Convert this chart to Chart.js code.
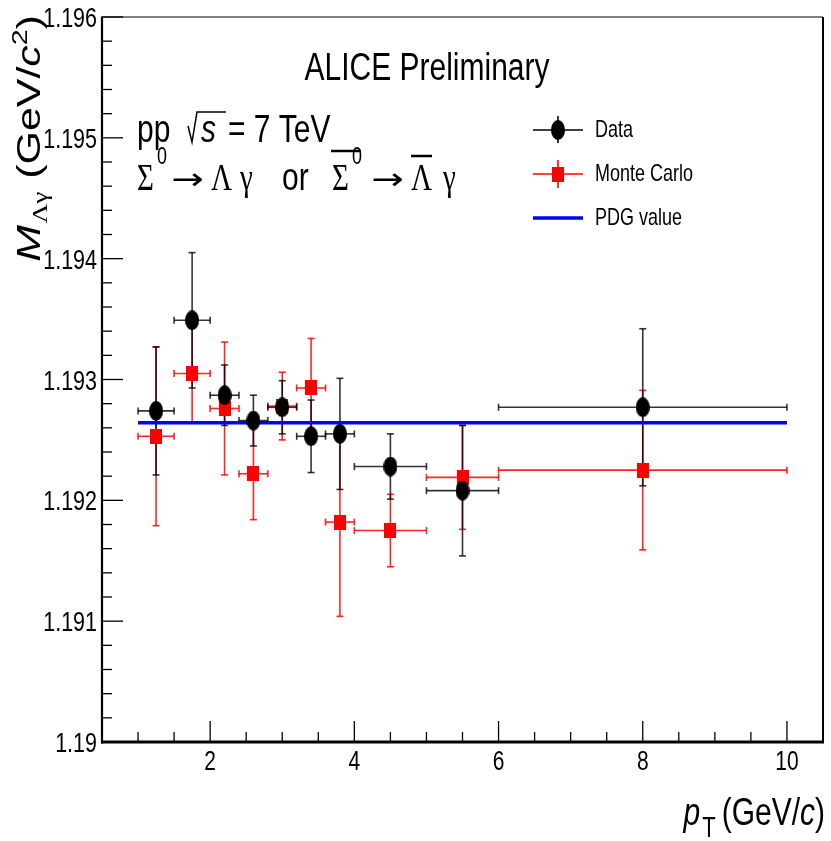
<!DOCTYPE html>
<html>
<head>
<meta charset="utf-8">
<script src="https://cdn.jsdelivr.net/npm/chart.js@4.4.1/dist/chart.umd.min.js"></script>
<style>
  html, body { margin: 0; padding: 0; background: #fff; }
  #chart { display: block; }
</style>
</head>
<body>
<canvas id="chart" width="831" height="841"></canvas>
<script>
// pT bins (GeV/c)
const ptCenters = [1.25, 1.75, 2.2, 2.6, 3.0, 3.4, 3.8, 4.5, 5.5, 8.0];
const ptLow     = [1.0, 1.5, 2.0, 2.4, 2.8, 3.2, 3.6, 4.0, 5.0, 6.0];
const ptHigh    = [1.5, 2.0, 2.4, 2.8, 3.2, 3.6, 4.0, 5.0, 6.0, 10.0];

// Lambda-gamma invariant mass (GeV/c^2)
const dataMass = [1.19274, 1.19349, 1.19287, 1.19266, 1.19277, 1.19253, 1.19255, 1.19228, 1.19208, 1.19277];
const dataErr  = [0.00053, 0.00056, 0.00025, 0.00021, 0.00022, 0.00030, 0.00046, 0.00027, 0.00054, 0.00065];
const mcMass   = [1.19253, 1.19305, 1.19276, 1.19222, 1.19278, 1.19293, 1.19182, 1.19175, 1.19219, 1.19225];
const mcErr    = [0.00074, 0.00040, 0.00055, 0.00038, 0.00028, 0.00041, 0.00078, 0.00030, 0.00043, 0.00066];

const pdgMass  = 1.192642;
const pdgRange = [1.0, 10.0];

// axis ticks
const xTicks = [2, 4, 6, 8, 10];
const xTickLabels = ['2', '4', '6', '8', '10'];
const yTicks = [1.19, 1.191, 1.192, 1.193, 1.194, 1.195, 1.196];
const yTickLabels = ['1.19', '1.191', '1.192', '1.193', '1.194', '1.195', '1.196'];

const SANS = '"Liberation Sans", Arial, sans-serif';
const SERIF = '"Liberation Serif", "Times New Roman", serif';
const S = 1.3; // ROOT canvas text looks stretched vertically

function markerImg(w, h, color, round) {
    const c = document.createElement('canvas');
    c.width = w; c.height = h;
    const g = c.getContext('2d');
    g.fillStyle = color;
    if (round) {
        g.beginPath();
        g.ellipse(w / 2, h / 2, w / 2, h / 2, 0, 0, Math.PI * 2);
        g.fill();
    } else {
        g.fillRect(0, 0, w, h);
    }
    return c;
}
const dotImg = markerImg(14, 20, '#000', true);
const squareImg = markerImg(12, 15, '#ff0000', false);

// draw a list of text runs along the current x axis, returns width
function runs(ctx, list, draw) {
    let x = 0;
    for (const r of list) {
        ctx.font = (r.italic ? 'italic ' : '') + r.size + 'px ' + (r.serif ? SERIF : SANS);
        if (draw) ctx.fillText(r.t, x, r.dy || 0);
        x += ctx.measureText(r.t).width + (r.gap || 0);
    }
    return x;
}

function text(ctx, str, x, y, size, opt) {
    opt = opt || {};
    ctx.save();
    ctx.translate(x, y);
    ctx.scale(opt.sx || 1, opt.sy || S);
    ctx.font = (opt.italic ? 'italic ' : '') + size + 'px ' + (opt.family || (opt.serif ? SERIF : SANS));
    ctx.textAlign = opt.align || 'left';
    ctx.textBaseline = 'alphabetic';
    ctx.fillStyle = '#000';
    ctx.fillText(str, 0, 0);
    ctx.restore();
}

function line(ctx, x1, y1, x2, y2, color, w) {
    ctx.strokeStyle = color;
    ctx.lineWidth = w;
    ctx.beginPath();
    ctx.moveTo(x1, y1);
    ctx.lineTo(x2, y2);
    ctx.stroke();
}

function errorBars(ctx, xs, ys, mass, err, color) {
    const cap = 3.5;
    for (let i = 0; i < ptCenters.length; i++) {
        const px = xs.getPixelForValue(ptCenters[i]);
        const py = ys.getPixelForValue(mass[i]);
        const x1 = xs.getPixelForValue(ptLow[i]);
        const x2 = xs.getPixelForValue(ptHigh[i]);
        const y1 = ys.getPixelForValue(mass[i] + err[i]);
        const y2 = ys.getPixelForValue(mass[i] - err[i]);
        line(ctx, x1, py, x2, py, color, 1.6);
        line(ctx, x1, py - cap, x1, py + cap, color, 1.6);
        line(ctx, x2, py - cap, x2, py + cap, color, 1.6);
        line(ctx, px, y1, px, y2, color, 1.6);
        line(ctx, px - cap, y1, px + cap, y1, color, 1.6);
        line(ctx, px - cap, y2, px + cap, y2, color, 1.6);
    }
}

const ARROW = { family: '"DejaVu Sans", sans-serif', sx: 1.3, sy: 1 };

const rootStyle = {
    id: 'rootStyle',
    beforeDatasetsDraw(chart) {
        const ctx = chart.ctx;
        const xs = chart.scales.x, ys = chart.scales.y;
        ctx.save();
        errorBars(ctx, xs, ys, mcMass, mcErr, 'rgba(255,0,0,0.85)');
        errorBars(ctx, xs, ys, dataMass, dataErr, 'rgba(0,0,0,0.8)');
        ctx.restore();
    },
    afterDatasetsDraw(chart) {
        const ctx = chart.ctx;
        const a = chart.chartArea;
        const xs = chart.scales.x, ys = chart.scales.y;
        ctx.save();

        // frame
        line(ctx, a.left, a.top, a.right, a.top, '#000', 1.2);
        line(ctx, a.right, a.top, a.right, a.bottom, '#000', 2);
        line(ctx, a.left, a.top - 0.5, a.left, a.bottom + 1.5, '#000', 2.2);
        line(ctx, a.left - 1, a.bottom, a.right + 1, a.bottom, '#000', 3);

        // x ticks (inward)
        for (let v = 0.5; v <= 10.5 + 1e-9; v += 0.5) {
            const px = xs.getPixelForValue(v);
            const major = xTicks.includes(Math.round(v * 10) / 10);
            line(ctx, px, a.bottom, px, a.bottom - (major ? 21 : 10), '#000', 1.3);
        }
        // y ticks (inward)
        for (let k = 0; k <= 30; k++) {
            const v = 1.19 + k * 0.0002;
            const py = ys.getPixelForValue(v);
            line(ctx, a.left, py, a.left + (k % 5 === 0 ? 21 : 10), py, '#000', 1.3);
        }

        // tick labels
        xTicks.forEach((v, i) => text(ctx, xTickLabels[i], xs.getPixelForValue(v), a.bottom + 28, 21, { align: 'center' }));
        yTicks.forEach((v, i) => text(ctx, yTickLabels[i], a.left - 5, ys.getPixelForValue(v) + 10, 21.5, { align: 'right' }));

        // x title
        ctx.fillStyle = '#000';
        ctx.save();
        ctx.translate(0, 825);
        ctx.scale(1, S);
        const xt = [
            { t: 'p', size: 30, italic: true, gap: 2 },
            { t: 'T', size: 22, dy: 9, gap: 6 },
            { t: '(GeV/', size: 30 },
            { t: 'c', size: 30, italic: true },
            { t: ')', size: 30 }
        ];
        const xw = runs(ctx, xt, false);
        ctx.translate(825 - xw, 0);
        runs(ctx, xt, true);
        ctx.restore();

        // y title (rotated)
        ctx.save();
        ctx.translate(40, 0);
        ctx.rotate(-Math.PI / 2);
        ctx.scale(S, 1);
        const yt = [
            { t: 'M', size: 34, italic: true, gap: 1 },
            { t: '\u039B\u03B3', size: 21, serif: true, dy: 7, gap: 10 },
            { t: '(GeV/', size: 33 },
            { t: 'c', size: 33, italic: true },
            { t: '2', size: 22, dy: -13 },
            { t: ')', size: 33 }
        ];
        const yw = runs(ctx, yt, false);
        ctx.translate(-(15 / S) - yw, 0);
        runs(ctx, yt, true);
        ctx.restore();

        // labels
        text(ctx, 'ALICE Preliminary', 427, 80, 30, { align: 'center' });

        text(ctx, 'pp', 137, 142, 30);
        ctx.strokeStyle = '#000';
        ctx.lineWidth = 1.5;
        ctx.beginPath();
        ctx.moveTo(188, 126);
        ctx.lineTo(192, 142);
        ctx.lineTo(197, 112);
        ctx.lineTo(226, 112);
        ctx.stroke();
        text(ctx, 's', 201, 142, 30, { italic: true });
        text(ctx, '= 7 TeV', 228, 142, 30);

        text(ctx, '\u03A3', 137, 190, 29, { serif: true });
        text(ctx, '0', 157, 164, 18);
        text(ctx, '\u2192', 171, 189, 30, ARROW);
        text(ctx, '\u039B', 211, 190, 29, { serif: true });
        text(ctx, '\u03B3', 240, 190, 29, { serif: true });
        text(ctx, 'or', 282, 190, 30);
        text(ctx, '\u03A3', 332, 190, 29, { serif: true });
        text(ctx, '0', 352, 164, 18);
        line(ctx, 331, 151, 361, 151, '#000', 2.5);
        text(ctx, '\u2192', 371, 189, 30, ARROW);
        text(ctx, '\u039B', 411, 190, 29, { serif: true });
        line(ctx, 411, 156, 432, 156, '#000', 2.5);
        text(ctx, '\u03B3', 443, 190, 29, { serif: true });

        // legend
        line(ctx, 533, 130, 583, 130, '#000', 1.6);
        line(ctx, 558, 116, 558, 143, '#000', 1.6);
        ctx.drawImage(dotImg, 558 - 7, 130 - 10);
        text(ctx, 'Data', 595, 137, 18);

        line(ctx, 533, 174, 583, 174, '#ff0000', 1.6);
        line(ctx, 558, 160, 558, 188, '#ff0000', 1.6);
        ctx.drawImage(squareImg, 558 - 6, 174 - 7.5);
        text(ctx, 'Monte Carlo', 595, 181, 18);

        line(ctx, 533, 218, 583, 218, '#0000ff', 3.5);
        text(ctx, 'PDG value', 595, 225, 18);

        ctx.restore();
    }
};

const chart = new Chart(document.getElementById('chart'), {
    type: 'scatter',
    data: {
        datasets: [
            {
                label: 'Data',
                data: ptCenters.map((x, i) => ({ x: x, y: dataMass[i] })),
                pointStyle: dotImg,
                pointRadius: 7,
                order: 1
            },
            {
                label: 'Monte Carlo',
                data: ptCenters.map((x, i) => ({ x: x, y: mcMass[i] })),
                pointStyle: squareImg,
                pointRadius: 7,
                order: 2
            },
            {
                label: 'PDG value',
                type: 'line',
                data: pdgRange.map(x => ({ x: x, y: pdgMass })),
                borderColor: '#0000ff',
                borderWidth: 3.5,
                pointRadius: 0,
                fill: false,
                order: 3
            }
        ]
    },
    options: {
        responsive: false,
        animation: false,
        layout: { padding: { top: 17, right: 0, left: 0, bottom: 0 } },
        plugins: { legend: { display: false }, tooltip: { enabled: false } },
        scales: {
            x: {
                type: 'linear', min: 0.5, max: 10.5,
                ticks: { display: false }, grid: { display: false }, border: { display: false },
                afterFit(s) { s.height = 99; }
            },
            y: {
                min: 1.19, max: 1.196,
                ticks: { display: false }, grid: { display: false }, border: { display: false },
                afterFit(s) { s.width = 102; }
            }
        }
    },
    plugins: [rootStyle]
});
</script>
</body>
</html>
